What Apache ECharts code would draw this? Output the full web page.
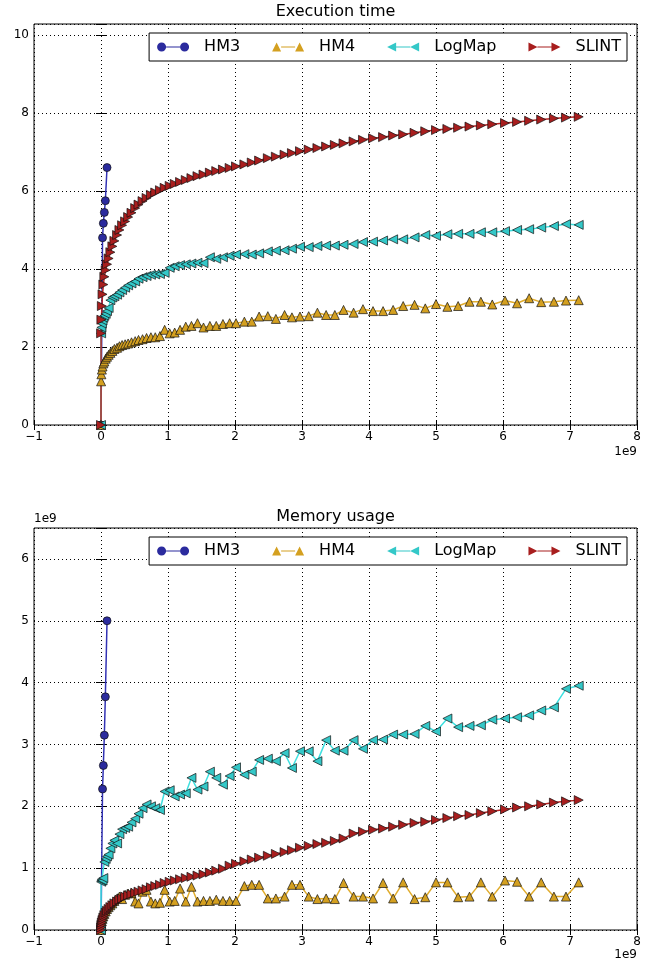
<!DOCTYPE html>
<html>
<head>
<meta charset="utf-8">
<script src="https://cdn.jsdelivr.net/npm/echarts@6/dist/echarts.min.js"></script>
<style>
  html, body { margin: 0; padding: 0; background: #fff; }
  #chart { width: 650px; height: 964px; }
</style>
</head>
<body>
<div id="chart"></div>
<script>
// problem sizes (x, in units of 1e9), shared by HM4, LogMap and SLINT
const sizes = [
  0, 0.0015, 0.006, 0.013, 0.023, 0.035, 0.05, 0.07, 0.09, 0.114,
  0.14, 0.17, 0.2, 0.24, 0.275, 0.315, 0.36, 0.405, 0.455, 0.51,
  0.56, 0.62, 0.68, 0.745, 0.81, 0.88, 0.95, 1.025, 1.1, 1.18,
  1.265, 1.35, 1.44, 1.53, 1.625, 1.72, 1.82, 1.92, 2.015, 2.14,
  2.25, 2.36, 2.49, 2.61, 2.74, 2.85, 2.97, 3.1, 3.23, 3.36,
  3.49, 3.62, 3.77, 3.91, 4.06, 4.21, 4.36, 4.51, 4.68, 4.84,
  5.0, 5.17, 5.33, 5.5, 5.67, 5.84, 6.03, 6.21, 6.39, 6.57,
  6.76, 6.94, 7.13
]
const hm3Sizes = [0, 0.023, 0.035, 0.05, 0.065, 0.09]

// execution time
const hm3Time = [0, 4.8, 5.17, 5.45, 5.75, 6.6]
const hm4Time = [
  0, 1.12, 1.3, 1.42, 1.5, 1.58, 1.63, 1.7, 1.75, 1.8,
  1.85, 1.9, 1.95, 1.98, 2.02, 2.05, 2.07, 2.09, 2.12, 2.15,
  2.18, 2.2, 2.23, 2.25, 2.25, 2.28, 2.44, 2.35, 2.37, 2.44,
  2.52, 2.54, 2.61, 2.5, 2.54, 2.54, 2.59, 2.61, 2.61, 2.65,
  2.65, 2.78, 2.79, 2.72, 2.82, 2.76, 2.78, 2.79, 2.88, 2.82,
  2.82, 2.95, 2.88, 2.97, 2.92, 2.92, 2.95, 3.05, 3.08, 2.99,
  3.1, 3.03, 3.05, 3.16, 3.16, 3.09, 3.19, 3.12, 3.25, 3.15,
  3.16, 3.19, 3.2
]
const logmapTime = [
  0, 2.35, 2.5, 2.6, 2.68, 2.75, 2.8, 2.85, 2.92, 3.0,
  3.2, 3.27, 3.3, 3.34, 3.4, 3.46, 3.52, 3.58, 3.63, 3.68,
  3.75, 3.79, 3.82, 3.85, 3.86, 3.87, 3.9, 4.03, 4.07, 4.1,
  4.12, 4.14, 4.16, 4.15, 4.3, 4.26, 4.3, 4.34, 4.37, 4.38,
  4.37, 4.4, 4.45, 4.47, 4.48, 4.52, 4.57, 4.56, 4.59, 4.6,
  4.6, 4.62, 4.64, 4.69, 4.7, 4.73, 4.76, 4.76, 4.81, 4.87,
  4.85, 4.89, 4.9, 4.9, 4.94, 4.94, 4.97, 5.0, 5.02, 5.06,
  5.1, 5.15, 5.13
]
const slintTime = [
  0, 2.35, 2.7, 3.05, 3.35, 3.6, 3.8, 3.97, 4.12, 4.27,
  4.43, 4.58, 4.72, 4.87, 5.0, 5.12, 5.22, 5.33, 5.44, 5.56,
  5.65, 5.74, 5.82, 5.9, 5.96, 6.02, 6.08, 6.13, 6.18, 6.23,
  6.28, 6.33, 6.38, 6.42, 6.47, 6.51, 6.55, 6.59, 6.63, 6.68,
  6.73, 6.78, 6.84, 6.88, 6.93, 6.97, 7.02, 7.06, 7.1, 7.14,
  7.18, 7.22, 7.27, 7.31, 7.35, 7.38, 7.42, 7.45, 7.49, 7.53,
  7.56, 7.59, 7.62, 7.65, 7.68, 7.71, 7.74, 7.77, 7.8, 7.83,
  7.86, 7.88, 7.9
]

// memory usage (units of 1e9)
const hm3Mem = [0, 2.28, 2.66, 3.15, 3.77, 5.0]
const hm4Mem = [
  0, 0.05, 0.1, 0.14, 0.18, 0.22, 0.26, 0.3, 0.34, 0.37,
  0.4, 0.43, 0.47, 0.51, 0.54, 0.5, 0.57, 0.59, 0.6, 0.46,
  0.43, 0.62, 0.65, 0.46, 0.43, 0.44, 0.65, 0.46, 0.47, 0.67,
  0.46, 0.7, 0.46, 0.47, 0.47, 0.49, 0.47, 0.47, 0.47, 0.71,
  0.73, 0.73, 0.51, 0.51, 0.54, 0.73, 0.73, 0.54, 0.5, 0.51,
  0.5, 0.76, 0.54, 0.54, 0.51, 0.76, 0.51, 0.77, 0.5, 0.53,
  0.77, 0.77, 0.53, 0.54, 0.77, 0.54, 0.8, 0.78, 0.54, 0.77,
  0.54, 0.54, 0.77
]
const logmapMem = [
  0, 0.78, 0.8, 0.82, 0.8, 0.84, 1.1, 1.15, 1.19, 1.22,
  1.32, 1.4, 1.45, 1.4, 1.55, 1.63, 1.65, 1.67, 1.74, 1.8,
  1.88, 1.97, 2.03, 2.0, 1.97, 1.94, 2.24, 2.26, 2.16, 2.19,
  2.21, 2.46, 2.27, 2.32, 2.56, 2.46, 2.35, 2.49, 2.63, 2.51,
  2.56, 2.75, 2.77, 2.73, 2.86, 2.62, 2.89, 2.89, 2.73, 3.07,
  2.9, 2.9, 3.07, 2.93, 3.07, 3.08, 3.16, 3.16, 3.17, 3.3,
  3.21, 3.42, 3.28, 3.3, 3.31, 3.4, 3.42, 3.44, 3.47, 3.55,
  3.6, 3.9, 3.95
]
const slintMem = [
  0, 0.04, 0.08, 0.12, 0.16, 0.2, 0.24, 0.28, 0.31, 0.34,
  0.37, 0.4, 0.43, 0.46, 0.49, 0.51, 0.54, 0.56, 0.58, 0.6,
  0.62, 0.64, 0.66, 0.69, 0.71, 0.73, 0.76, 0.78, 0.8, 0.82,
  0.84, 0.86, 0.88, 0.9, 0.93, 0.96, 0.99, 1.04, 1.07, 1.11,
  1.14, 1.17, 1.2, 1.23, 1.26, 1.29, 1.33, 1.36, 1.39, 1.41,
  1.44, 1.48, 1.56, 1.59, 1.62, 1.64, 1.67, 1.7, 1.73, 1.75,
  1.78, 1.81, 1.84, 1.86, 1.89, 1.92, 1.95, 1.98, 2.0, 2.03,
  2.06, 2.08, 2.1
]

const titles = ['Execution time', 'Memory usage']
const names = ['HM3', 'HM4', 'LogMap', 'SLINT']
const xTicks = { min: -1, max: 8, interval: 1 }
const yTicks = [{ min: 0, max: 10.28, interval: 2 }, { min: 0, max: 6.5, interval: 1 }]

const FONT = 'DejaVu Sans'
const grids = [
  { left: 34, right: 13, top: 24, height: 401 },
  { left: 34, right: 13, top: 528, height: 402 },
]

const styles = {
  HM3: { symbol: 'circle', size: 8, fill: '#2b2b9e', line: '#3232b4' },
  HM4: { symbol: 'triangle', size: 9, fill: '#d4a020', line: '#e0ac2c' },
  LogMap: { symbol: 'path://M10,0L0,5L10,10Z', size: 9, fill: '#34c8c8', line: '#3ee0e0' },
  SLINT: { symbol: 'path://M0,0L10,5L0,10Z', size: 9, fill: '#a81e1e', line: '#b42424' },
}
const legendIcons = {
  HM3: 'path://M0,4.5A4.5,4.5,0,1,0,9,4.5A4.5,4.5,0,1,0,0,4.5Z M23,4.5A4.5,4.5,0,1,0,32,4.5A4.5,4.5,0,1,0,23,4.5Z M9,3.9L23,3.9L23,5.1L9,5.1Z',
  HM4: 'path://M0,9L4.5,0L9,9Z M23,9L27.5,0L32,9Z M9,3.9L23,3.9L23,5.1L9,5.1Z',
  LogMap: 'path://M0,4.5L9,0L9,9Z M23,4.5L32,0L32,9Z M9,3.9L23,3.9L23,5.1L9,5.1Z',
  SLINT: 'path://M0,0L9,4.5L0,9Z M23,0L32,4.5L23,9Z M9,3.9L23,3.9L23,5.1L9,5.1Z',
}

const onTick = (v, step) => Math.abs(v / step - Math.round(v / step)) < 1e-6
const minus = (v) => String(v).replace('-', '\u2212')

function xAxis(gi, top) {
  return {
    type: 'value', gridIndex: gi, position: top ? 'top' : 'bottom', ...xTicks,
    axisLine: { show: false },
    axisTick: { inside: true, length: 5, lineStyle: { color: '#000' } },
    axisLabel: { show: !top, color: '#000', fontFamily: FONT, fontSize: 12, margin: 6, formatter: minus },
    splitLine: { show: !top, lineStyle: { color: '#000', width: 1, type: [1, 3] } },
  }
}

function yAxis(gi, right) {
  const t = yTicks[gi]
  return {
    type: 'value', gridIndex: gi, position: right ? 'right' : 'left', ...t,
    axisLine: { show: false },
    axisTick: { inside: true, length: 5, lineStyle: { color: '#000' } },
    axisLabel: {
      show: !right, color: '#000', fontFamily: FONT, fontSize: 12, margin: 5,
      formatter: (v) => (onTick(v, t.interval) ? minus(v) : ''),
    },
    splitLine: { show: !right, lineStyle: { color: '#000', width: 1, type: [1, 3] } },
  }
}

function series(name, gi, xs, ys) {
  const s = styles[name]
  return {
    name, type: 'line', xAxisIndex: gi, yAxisIndex: gi,
    data: xs.map((x, i) => [x, ys[i]]),
    symbol: s.symbol, symbolSize: s.size, showAllSymbol: true,
    itemStyle: { color: s.fill, borderColor: '#111', borderWidth: 0.7 },
    lineStyle: { color: s.line, width: 1.5 },
    emphasis: { disabled: true },
    animation: false,
  }
}

function legend(top) {
  return {
    top, right: 23, orient: 'horizontal', selectedMode: false,
    itemWidth: 32, itemHeight: 9, itemGap: 32,
    padding: [6, 6, 6, 8],
    borderColor: '#000', borderWidth: 1, borderRadius: 0, backgroundColor: '#fff',
    textStyle: { fontFamily: FONT, fontSize: 16, color: '#000', padding: [0, 0, 0, 10], lineHeight: 16 },
    data: names.map((n) => ({
      name: n, icon: legendIcons[n],
      itemStyle: { color: styles[n].fill, borderWidth: 0 },
    })),
  }
}

function label(text, x, y, align, size) {
  return {
    type: 'text', x, y, z: 100,
    style: { text, align, verticalAlign: 'middle', fontFamily: FONT, fontSize: size, fill: '#000' },
  }
}

const chart = echarts.init(document.getElementById('chart'), null, { renderer: 'canvas' })

chart.setOption({
  animation: false,
  backgroundColor: '#fff',
  grid: grids.map((g) => ({
    ...g, show: true, borderColor: '#000', borderWidth: 1,
    backgroundColor: 'transparent', containLabel: false, outerBoundsMode: 'none',
  })),
  xAxis: [xAxis(0, false), xAxis(1, false), xAxis(0, true), xAxis(1, true)],
  yAxis: [yAxis(0, false), yAxis(1, false), yAxis(0, true), yAxis(1, true)],
  legend: [legend(33), legend(537)],
  graphic: [
    label(titles[0], 335.5, 12, 'center', 16),
    label(titles[1], 335.5, 517, 'center', 16),
    label('1e9', 637, 452, 'right', 12),
    label('1e9', 637, 955, 'right', 12),
    label('1e9', 34, 519, 'left', 12),
  ],
  series: [
    series('HM3', 0, hm3Sizes, hm3Time),
    series('HM4', 0, sizes, hm4Time),
    series('LogMap', 0, sizes, logmapTime),
    series('SLINT', 0, sizes, slintTime),
    series('HM3', 1, hm3Sizes, hm3Mem),
    series('HM4', 1, sizes, hm4Mem),
    series('LogMap', 1, sizes, logmapMem),
    series('SLINT', 1, sizes, slintMem),
  ],
})
</script>
</body>
</html>
